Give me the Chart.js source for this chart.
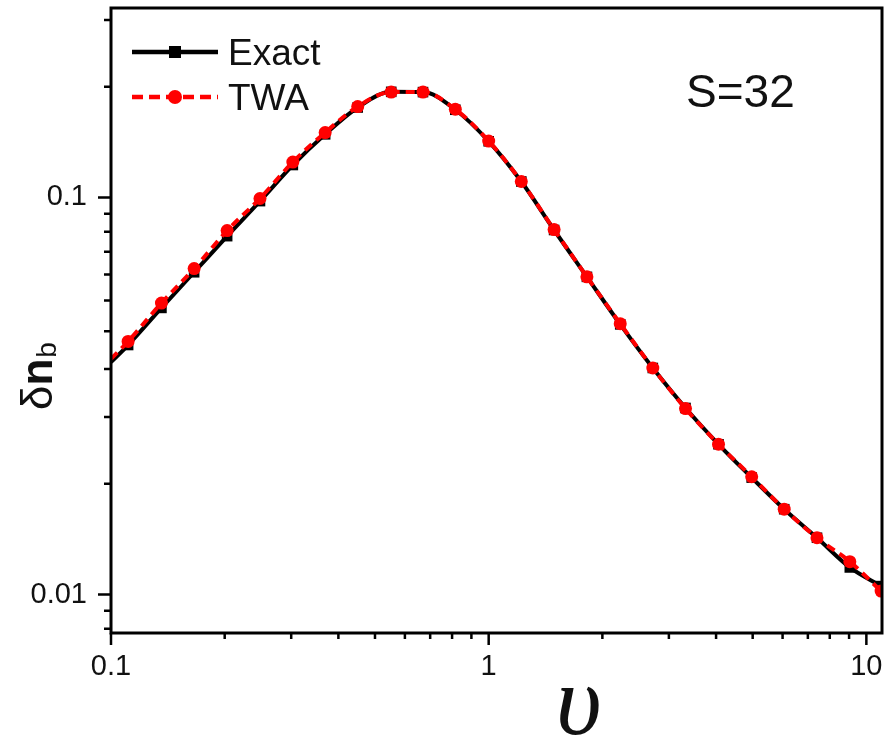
<!DOCTYPE html>
<html>
<head>
<meta charset="utf-8">
<script src="https://cdn.jsdelivr.net/npm/chart.js@4.4.0/dist/chart.umd.min.js"></script>
<style>
  html, body { margin: 0; padding: 0; background: #fff; }
  #wrap { width: 893px; height: 744px; position: relative; }
</style>
</head>
<body>
<div id="wrap"><canvas id="dnbChart"></canvas></div>
<script>
// values (v on x, delta n_b on y)
const vValues = [0.1, 0.111, 0.136, 0.166, 0.203, 0.248, 0.303, 0.369, 0.450, 0.552, 0.670, 0.816,
  1.0, 1.22, 1.49, 1.82, 2.23, 2.72, 3.32, 4.06, 4.97, 6.06, 7.40, 9.04, 10.94];
const exactValues = [0.0385, 0.0425, 0.0527, 0.0648, 0.0799, 0.0979, 0.1207, 0.1442, 0.1685, 0.1845, 0.1842, 0.1663,
  0.1385, 0.1097, 0.0828, 0.0631, 0.0479, 0.0372, 0.0295, 0.0239, 0.0197, 0.0164, 0.0139, 0.0117, 0.0105];
const twaValues = [0.0392, 0.0434, 0.0542, 0.0662, 0.0825, 0.0994, 0.1228, 0.1457, 0.1694, 0.1842, 0.1842, 0.1668,
  0.1387, 0.1097, 0.0830, 0.0631, 0.0481, 0.0372, 0.0294, 0.0239, 0.0198, 0.0164, 0.0139, 0.0121, 0.0102];

// axis ticks
const xMajor = [0.1, 1, 10];
const xMinor = [0.2, 0.3, 0.4, 0.5, 0.6, 0.7, 0.8, 0.9, 2, 3, 4, 5, 6, 7, 8, 9];
const yMajor = [0.01, 0.1];
const yMinor = [0.0082, 0.0091, 0.019, 0.028, 0.037, 0.046, 0.055, 0.064, 0.073, 0.082, 0.091, 0.19, 0.28];

const SANS = "'Liberation Sans', Arial, sans-serif";

// frame, tick marks, legend and labels
const decorations = {
  id: "decorations",
  afterDraw(chart) {
    const { ctx, chartArea: a, scales: { x, y } } = chart;
    ctx.save();
    ctx.strokeStyle = "#000";
    ctx.lineCap = "butt";

    ctx.lineWidth = 2.5;
    ctx.beginPath();
    xMajor.forEach(v => { const p = x.getPixelForValue(v); ctx.moveTo(p, a.bottom); ctx.lineTo(p, a.bottom + 12); });
    xMinor.forEach(v => { const p = x.getPixelForValue(v); ctx.moveTo(p, a.bottom); ctx.lineTo(p, a.bottom + 6); });
    yMajor.forEach(v => { const p = y.getPixelForValue(v); ctx.moveTo(a.left, p); ctx.lineTo(a.left - 13, p); });
    yMinor.forEach(v => { const p = y.getPixelForValue(v); ctx.moveTo(a.left, p); ctx.lineTo(a.left - 7, p); });
    ctx.stroke();

    ctx.lineWidth = 3;
    ctx.strokeRect(a.left, a.top, a.right - a.left, a.bottom - a.top);

    // legend
    const lx0 = a.left + 21, lx1 = a.left + 107;
    ctx.lineWidth = 4.5;
    ctx.beginPath(); ctx.moveTo(lx0, 52); ctx.lineTo(lx1, 52); ctx.stroke();
    ctx.fillStyle = "#000";
    ctx.fillRect((lx0 + lx1) / 2 - 6, 46, 12, 12);
    ctx.strokeStyle = "#ff0000";
    ctx.setLineDash([11, 6]);
    ctx.beginPath(); ctx.moveTo(lx0, 97); ctx.lineTo(lx1, 97); ctx.stroke();
    ctx.setLineDash([]);
    ctx.fillStyle = "#ff0000";
    ctx.beginPath(); ctx.arc((lx0 + lx1) / 2, 97, 7, 0, Math.PI * 2); ctx.fill();

    ctx.fillStyle = "#111";
    ctx.textBaseline = "alphabetic";
    ctx.textAlign = "left";
    ctx.font = "37px " + SANS;
    ctx.fillText("Exact", 228, 65);
    ctx.fillText("TWA", 228, 110);

    ctx.font = "46px " + SANS;
    ctx.fillText("S=32", 686, 107);

    // y title: delta n with subscript b
    ctx.save();
    ctx.translate(52, 410);
    ctx.rotate(-Math.PI / 2);
    ctx.font = "44px " + SANS;
    ctx.fillText("\u03B4", 0, 0);
    const wd = ctx.measureText("\u03B4").width;
    ctx.font = "bold 44px " + SANS;
    ctx.fillText("n", wd, 0);
    const wn = ctx.measureText("n").width;
    ctx.font = "28px " + SANS;
    ctx.fillText("b", wd + wn + 1, 4);
    ctx.restore();

    // x title
    ctx.font = "italic 100px 'Liberation Serif', 'DejaVu Serif', serif";
    ctx.textAlign = "center";
    ctx.fillText("\u03C5", x.getPixelForValue(1.73), 734);

    ctx.restore();
  }
};

document.addEventListener("DOMContentLoaded", () => {
  const ctx = document.getElementById("dnbChart");

  new Chart(ctx, {
    type: "line",
    data: {
      datasets: [
        {
          label: "Exact",
          data: vValues.map((v, i) => ({ x: v, y: exactValues[i] })),
          borderColor: "#000",
          backgroundColor: "#000",
          borderWidth: 4,
          pointStyle: "rect",
          pointRadius: c => (c.dataIndex === 0 ? 0 : 7.5),
          pointBorderWidth: 0,
          cubicInterpolationMode: "monotone",
          order: 1,
        },
        {
          label: "TWA",
          data: vValues.map((v, i) => ({ x: v, y: twaValues[i] })),
          borderColor: "#ff0000",
          backgroundColor: "#ff0000",
          borderWidth: 4,
          borderDash: [9, 6],
          pointStyle: "circle",
          pointRadius: c => (c.dataIndex === 0 ? 0 : 6.5),
          pointBorderWidth: 0,
          cubicInterpolationMode: "monotone",
          order: 0,
        },
      ],
    },
    options: {
      responsive: true,
      maintainAspectRatio: false,
      animation: false,
      layout: { padding: { top: 8, right: 11, left: 0, bottom: 0 } },
      plugins: {
        legend: { display: false },
        tooltip: { enabled: false },
      },
      scales: {
        x: {
          type: "logarithmic",
          min: 0.1,
          max: 11,
          grid: { display: false, drawTicks: false },
          border: { display: false },
          afterBuildTicks: s => { s.ticks = xMajor.map(v => ({ value: v })); },
          afterFit: s => { s.height = 111; s.paddingLeft = 0; s.paddingRight = 0; },
          ticks: {
            autoSkip: false,
            maxRotation: 0,
            padding: 17,
            color: "#111",
            font: { family: SANS, size: 29 },
            callback: v => String(v),
          },
        },
        y: {
          type: "logarithmic",
          min: 0.008,
          max: 0.3,
          grid: { display: false, drawTicks: false },
          border: { display: false },
          afterBuildTicks: s => { s.ticks = yMajor.map(v => ({ value: v })); },
          afterFit: s => { s.width = 111; s.paddingTop = 0; s.paddingBottom = 0; },
          ticks: {
            autoSkip: false,
            padding: 24,
            color: "#111",
            font: { family: SANS, size: 29 },
            callback: v => String(v),
          },
        },
      },
    },
    plugins: [decorations],
  });
});
</script>
</body>
</html>
